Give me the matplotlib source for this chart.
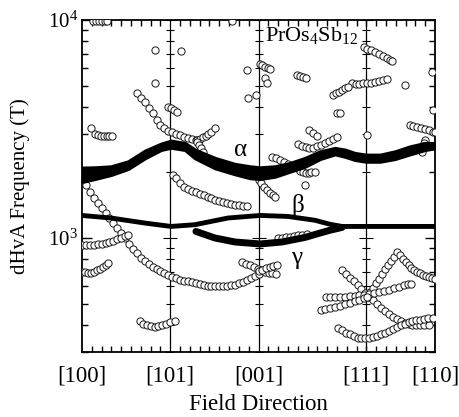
import matplotlib
matplotlib.use('Agg')
import matplotlib.pyplot as plt
from matplotlib.ticker import FixedLocator, MultipleLocator, NullFormatter

plt.rcParams['font.family'] = 'Liberation Serif'
plt.rcParams['mathtext.fontset'] = 'custom'
plt.rcParams['mathtext.rm'] = 'Liberation Serif'
plt.rcParams['mathtext.it'] = 'Liberation Serif:italic'

# field directions (angle along the path, degrees)
directions = ['[100]', '[101]', '[001]', '[111]', '[110]']
dir_angle = [0, 45, 90, 144.74, 180]

# alpha: broad band, lower and upper edge (T)
alpha_ang = [0.0, 6.6, 14.8, 23.5, 32.1, 40.3, 45.4, 52.5, 57.6, 67.8, 78.0, 85.7, 90.8,
             98.4, 106.1, 113.7, 121.4, 129.0, 134.1, 139.2, 144.8, 152.0, 159.6, 167.3, 174.9, 180.0]
alpha_lo = [1811, 1869, 1950, 2077, 2326, 2539, 2600, 2539, 2326, 2093, 1964, 1884, 1869,
            1915, 2020, 2128, 2308, 2425, 2364, 2284, 2243, 2243, 2308, 2425, 2539, 2584]
alpha_hi = [2099, 2106, 2128, 2243, 2511, 2704, 2791, 2724, 2539, 2326, 2183, 2128, 2106,
            2128, 2206, 2326, 2493, 2584, 2539, 2450, 2407, 2407, 2493, 2628, 2724, 2724]

beta_ang = [0.0, 14.8, 32.1, 45.4, 57.6, 74.4, 90.8, 105.0, 118.8, 126.5, 132.6, 150.0, 165.0, 180.0]
beta_f = [1269, 1235, 1171, 1130, 1151, 1235, 1269, 1256, 1206, 1156, 1130, 1130, 1130, 1130]

gamma_ang = [58.1, 67.8, 78.0, 90.8, 102.0, 113.7, 121.4, 126.5, 132.6]
gamma_f = [1072, 1000, 959, 939, 959, 1006, 1054, 1086, 1118]

# open-circle branches
top_ang = [5.5, 7.0, 8.5, 10.0, 11.5, 13.0]
top_f = [9900, 9900, 9900, 9900, 9900, 9900]

single_ang = [37.4, 37.1, 50.6, 76.3, 84.0, 84.8, 88.6, 93.3, 94.2, 113.7,
              130.0, 131.5, 145.2, 164.7, 178.3, 179.0]
single_f = [7290, 5130, 7210, 9850, 5900, 4380, 4530, 5410, 5130, 1754,
            3740, 3740, 2970, 5040, 5800, 3870]

a3_ang = [28.2, 30, 32, 34, 36, 38, 40, 42, 44, 46, 48, 50, 52, 54, 56, 58]
a3_f = [4615, 4400, 4198, 3960, 3730, 3480, 3310, 3180, 3100, 3060, 3010, 2960, 2920, 2880, 2850, 2820]

k101_ang = [43.9, 45.4, 46.9, 48.4]
k101_f = [3996, 3954, 3872, 3790]

l100_ang = [4.4, 6.5, 8.0, 9.5, 11.0, 12.5, 14.0, 15.3]
l100_f = [3191, 3000, 2965, 2950, 2940, 2932, 2927, 2925]

asc60_ang = [58.5, 60.0, 61.5, 63.0, 64.5, 66.0, 67.8]
asc60_f = [2820, 2860, 2900, 2950, 3010, 3080, 3191]

dsc60_ang = [58.5, 59.5, 60.5, 61.7]
dsc60_f = [2761, 2680, 2590, 2493]

p91_ang = [90.8, 92.0, 93.3, 94.6, 95.9]
p91_f = [6270, 6200, 6100, 6030, 5965]

p110_ang = [109.5, 111.0, 112.5, 114.0]
p110_f = [5596, 5540, 5480, 5420]

d100_ang = [97, 99, 101, 103, 105, 107]
d100_f = [2365, 2320, 2280, 2235, 2185, 2135]

arc115_ang = [110.3, 112, 114, 116, 118, 120, 122, 124, 126, 128, 129.9]
arc115_f = [2704, 2650, 2605, 2584, 2600, 2640, 2680, 2740, 2800, 2860, 2920]

k117_ang = [115.7, 117.8, 119.8]
k117_f = [3136, 3037, 2942]

ba112_ang = [109.5, 111.0, 112.5, 114.0, 115.5, 117.0, 118.8]
ba112_f = [2099, 2040, 2010, 1995, 1990, 2000, 2012]

d001_ang = [90.3, 91.5, 93.0, 94.5, 96.0, 97.5, 98.4]
d001_f = [1849, 1790, 1720, 1660, 1610, 1570, 1546]

u1_ang = [143.7, 145.5, 147.5, 149.5, 151.5, 153.5, 155.5, 157.0, 158.2]
u1_f = [7546, 7400, 7250, 7100, 6960, 6820, 6680, 6570, 6491]

u2_ang = [137.5, 139.5, 141.5, 143.5, 145.5, 147.5, 149.5, 151.5, 153.5, 155.4]
u2_f = [5130, 5110, 5110, 5120, 5140, 5160, 5190, 5230, 5290, 5370]

u3_ang = [128.1, 129.5, 131.0, 132.4, 134.0, 135.8]
u3_f = [4533, 4610, 4690, 4777, 4860, 4949]

u4_ang = [167.2, 169, 171, 173, 175, 177, 179, 180]
u4_f = [3304, 3270, 3232, 3195, 3160, 3120, 3080, 3059]

u5_ang = [174.9, 174.5, 174.1, 173.7, 173.4]
u5_f = [2820, 2730, 2648, 2560, 2485]

c1_ang = [0.5, 2, 4, 6, 8, 10, 12, 14, 16, 18, 20, 22, 24, 26, 28, 30, 32, 34, 36, 38, 40, 42, 44,
          46, 48, 50, 52, 54, 56, 58, 60, 62, 64, 66, 68, 70, 72, 74, 76, 78, 80, 82, 84, 86, 88, 90]
c1_f = [1849, 1750, 1620, 1520, 1440, 1370, 1300, 1230, 1170, 1110, 1050, 995, 940, 890, 850, 810,
        781, 760, 740, 722, 705, 690, 676, 665, 655, 645, 638, 632, 626, 620, 614, 610, 605, 602,
        600, 600, 601, 603, 607, 611, 620, 630, 640, 655, 670, 685]

c2_ang = [46.6, 48, 50, 52, 54, 56, 58, 60, 62, 64, 66, 68, 70, 72, 74, 76, 78, 80, 82, 84]
c2_f = [1950, 1880, 1790, 1720, 1680, 1650, 1625, 1600, 1575, 1550, 1520, 1495, 1475, 1458,
        1443, 1430, 1421, 1412, 1404, 1396]

c3_ang = [0, 2, 4, 6, 8, 10, 12, 14, 16, 18, 20, 22, 23.5]
c3_f = [925, 925, 926, 928, 935, 942, 950, 960, 972, 985, 1000, 1018, 1035]

c4_ang = [0, 1.5, 3, 4.7, 6, 7.5, 9, 10.5, 12, 13.3]
c4_f = [699, 695, 692, 691, 700, 710, 723, 738, 752, 768]

c5_ang = [29.4, 31, 33, 35, 37, 39, 41, 43, 45, 47.3]
c5_f = [415, 405, 397, 393, 392, 394, 398, 404, 410, 418]

d1_ang = [81.7, 83.5, 85.5, 87.5, 89.5, 91.5, 93.5, 95.5, 97, 98.8]
d1_f = [776, 762, 748, 735, 722, 711, 701, 694, 690, 686]

d2_ang = [90.3, 92, 94, 96, 97.5, 99.4]
d2_f = [708, 715, 725, 734, 741, 749]

g_ang = [100.1, 102, 104, 106, 108, 110, 112, 114.6]
g_f = [1000, 1005, 1010, 1016, 1021, 1027, 1034, 1043]

e1_ang = [132.6, 134.5, 136.5, 138.5, 140.5, 142.5, 144.5, 146.5, 148.5, 150.5, 152.5, 154.5,
          156.5, 158.5, 160.5, 162.5, 164.5, 166.5, 168.5, 170.5, 172.5, 174.5, 177]
e1_f = [711, 684, 658, 633, 608, 584, 560, 538, 517, 497, 478, 462, 447, 435, 424, 415, 408,
        403, 400, 398, 397, 397, 398]

e2_ang = [145.5, 147, 148.5, 150, 151.5, 153, 154.5, 156, 157.5, 159, 160.8, 162.1, 163.5, 165,
          166.5, 168, 169.5, 171, 172.5, 174, 175.5, 177, 178.5, 180]
e2_f = [539, 565, 592, 622, 652, 685, 718, 750, 785, 822, 862, 839, 805, 775, 750, 728, 712,
        700, 690, 680, 672, 665, 658, 651]

e3_ang = [124.3, 126.5, 129, 131.5, 134, 136.5, 139, 141.5, 144, 146.5, 149, 151.5, 154, 156.5,
          159, 161.5, 164, 166, 167.6]
e3_f = [537, 537, 537, 537, 539, 541, 543, 545, 548, 551, 558, 565, 572, 580, 589, 598, 607,
        613, 618]

e4_ang = [121.7, 124, 126.5, 129, 131.5, 134, 136.5, 139, 141.5, 144, 145.5]
e4_f = [466, 472, 478, 484, 490, 497, 505, 513, 521, 530, 537]

e5_ang = [130.5, 132.5, 134.5, 136.5, 138.5, 140.5, 142.5, 144.5, 146.5, 148.5, 150.5, 152.5,
          154.5, 156.5, 158.5, 160.5, 162.5, 164.5, 166.5, 168.5, 170.5, 172.5, 174.5, 176.5, 179.1]
e5_f = [387, 377, 368, 361, 354, 349, 347, 347, 348, 352, 357, 362, 368, 375, 383, 391, 398,
        405, 410, 415, 419, 422, 425, 428, 431]

open_sets = [(top_ang, top_f), (single_ang, single_f), (a3_ang, a3_f), (k101_ang, k101_f),
             (l100_ang, l100_f), (asc60_ang, asc60_f), (dsc60_ang, dsc60_f), (p91_ang, p91_f),
             (p110_ang, p110_f), (d100_ang, d100_f), (arc115_ang, arc115_f), (k117_ang, k117_f),
             (ba112_ang, ba112_f), (d001_ang, d001_f), (u1_ang, u1_f), (u2_ang, u2_f),
             (u3_ang, u3_f), (u4_ang, u4_f), (u5_ang, u5_f), (c1_ang, c1_f), (c2_ang, c2_f),
             (c3_ang, c3_f), (c4_ang, c4_f), (c5_ang, c5_f), (d1_ang, d1_f), (d2_ang, d2_f),
             (g_ang, g_f), (e1_ang, e1_f), (e2_ang, e2_f), (e3_ang, e3_f), (e4_ang, e4_f),
             (e5_ang, e5_f)]

fig = plt.figure(figsize=(4.59, 4.17), dpi=100)
ax = fig.add_axes([82/459, 1-352/417, 353/459, 332/417])
ax.set_yscale('log')
ax.set_xlim(0, 180)
ax.set_ylim(300, 10000)

for a, f in open_sets:
    ax.plot(a, f, 'o', ms=5.2, mfc='white', mec='#1a1a1a', mew=0.7, zorder=3)

ax.fill_between(alpha_ang, alpha_lo, alpha_hi, color='black', lw=2.5, edgecolor='black', zorder=4)
ax.plot(beta_ang, beta_f, '-', color='black', lw=3.5, solid_capstyle='butt', zorder=4)
ax.plot(gamma_ang, gamma_f, '-', color='black', lw=5, solid_capstyle='round', zorder=4)

# internal direction lines with their own tick marks
minor_f = [m * 10**k for k in (2, 3) for m in range(2, 10) if 300 <= m * 10**k <= 10000]
for xv in dir_angle[1:4]:
    ax.axvline(xv, color='black', lw=0.9, zorder=2)
    ax.plot([xv] * len(minor_f), minor_f, ls='none', marker='_', ms=6, mew=0.8, color='black', zorder=2)
    ax.plot([xv, xv], [1000, 10000], ls='none', marker='_', ms=10, mew=0.8, color='black', zorder=2)

ax.set_xticks(dir_angle)
ax.set_xticklabels(directions)
ax.xaxis.set_minor_locator(MultipleLocator(5))
ax.yaxis.set_major_locator(FixedLocator([1000, 10000]))
ax.set_yticklabels(['10$^3$', '10$^4$'])
ax.yaxis.set_minor_locator(FixedLocator(minor_f))
ax.yaxis.set_minor_formatter(NullFormatter())

ax.tick_params(axis='x', which='major', length=0, pad=10, labelsize=16.5)
ax.tick_params(axis='x', which='minor', direction='in', length=4, width=1, top=True, bottom=True)
ax.tick_params(axis='y', which='major', direction='in', length=7, width=1, left=True, right=True,
               labelsize=15, pad=3)
ax.tick_params(axis='y', which='minor', direction='in', length=4, width=1, left=True, right=True)
for s in ax.spines.values():
    s.set_linewidth(1.3)

ax.set_xlabel('Field Direction', fontsize=16.5, labelpad=5)
ax.set_ylabel('dHvA Frequency (T)', fontsize=15, labelpad=13)

ax.text(93.5, 8450, 'PrOs$_4$Sb$_{12}$', fontsize=16, ha='left', va='center')
ax.text(80.8, 2539, 'α', fontsize=18, ha='center', va='center')
ax.text(110.1, 1406, 'β', fontsize=18, ha='center', va='center')
ax.text(109.5, 807, 'γ', fontsize=18, ha='center', va='center')

fig.savefig('out.png', dpi=100)
